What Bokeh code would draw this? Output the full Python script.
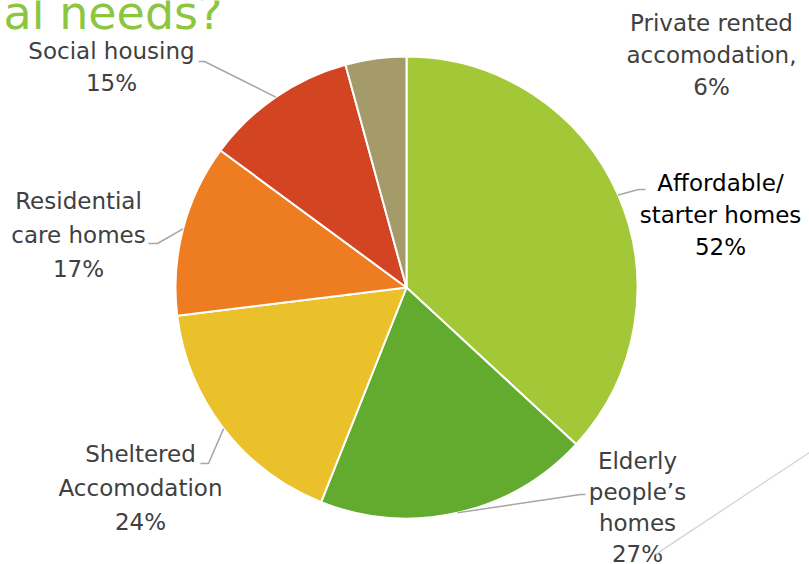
import math
from bokeh.plotting import figure
from bokeh.models import Range1d, ColumnDataSource
from bokeh.core.properties import value
from bokeh.embed import file_html
from bokeh.resources import INLINE

# ---- data ----
categories = ["Affordable/\nstarter homes", "Elderly\npeople\u2019s\nhomes", "Sheltered\nAccomodation",
              "Residential\ncare homes", "Social housing", "Private rented\naccomodation,"]
values = [52, 27, 24, 17, 15, 6]
colors = ["#A3C837", "#62AB2E", "#EAC12A", "#EE7D21", "#D34522", "#A49A6A"]
title_text = "ial needs?"

# ---- layout ----
W, H = 809, 564
CX, CY = 406, 287          # pie centre (screen px)
R = 231
FONT = "DejaVu Sans"
FS = "23px"

def Y(y):
    return H - y

p = figure(width=W, height=H, output_backend="svg", toolbar_location=None,
           x_range=Range1d(0, W), y_range=Range1d(0, H),
           x_axis_type=None, y_axis_type=None, min_border=0)
p.outline_line_color = None
p.grid.visible = False
p.background_fill_color = "white"
p.border_fill_color = "white"

total = float(sum(values))
starts, ends, mids = [], [], []
cum = 0.0
for v in values:
    a0 = cum / total * 2 * math.pi
    cum += v
    a1 = cum / total * 2 * math.pi
    # clockwise from 12 o'clock
    starts.append(math.pi / 2 - a1)
    ends.append(math.pi / 2 - a0)
    mids.append((a0 + a1) / 2)

src = ColumnDataSource(dict(x=[CX] * len(values), y=[Y(CY)] * len(values),
                            start=starts, end=ends, color=colors))
p.wedge(x="x", y="y", radius=R, start_angle="start", end_angle="end",
        fill_color="color", line_color="white", line_width=2, source=src)

# labels: (center x, first line y, line height, color, anchor/elbow for leader)
label_layout = [
    dict(x=720, y=182, lh=32, color="#000000", leader=[(645, 189), (638, 189)]),
    dict(x=637, y=460, lh=31, color="#404040", leader=[(585, 494), (580, 494)]),
    dict(x=140, y=453, lh=34, color="#404040", leader=[(200, 463), (208, 463)]),
    dict(x=78, y=200, lh=34, color="#404040", leader=[(148, 243), (157, 243)]),
    dict(x=111, y=50, lh=32, color="#404040", leader=[(198, 61), (204, 61)]),
    dict(x=711, y=22, lh=32, color="#404040", leader=None),
]

for cat, v, m, lay in zip(categories, values, mids, label_layout):
    lines = cat.split("\n") + [f"{v}%"]
    xs = [lay["x"]] * len(lines)
    ys = [Y(lay["y"] + i * lay["lh"]) for i in range(len(lines))]
    p.text(x=xs, y=ys, text=lines, text_align="center", text_baseline="middle",
           text_font=value(FONT), text_font_size=FS, text_color=lay["color"])
    if lay["leader"]:
        px = CX + R * math.sin(m)
        py = CY - R * math.cos(m)
        pts = lay["leader"] + [(px, py)]
        p.line([q[0] for q in pts], [Y(q[1]) for q in pts], line_color="#A6A6A6", line_width=1.5)

# slide title fragment (cropped)
p.text(x=[222], y=[Y(12)], text=[title_text], text_align="right", text_baseline="alphabetic",
       text_font=value(FONT), text_font_size="46px", text_color="#8CC63E")

# slide decoration line
p.line([809, 655], [Y(452), Y(554)], line_color="#D9D9D9", line_width=1.5)

open("out.html", "w").write(file_html(p, INLINE))
